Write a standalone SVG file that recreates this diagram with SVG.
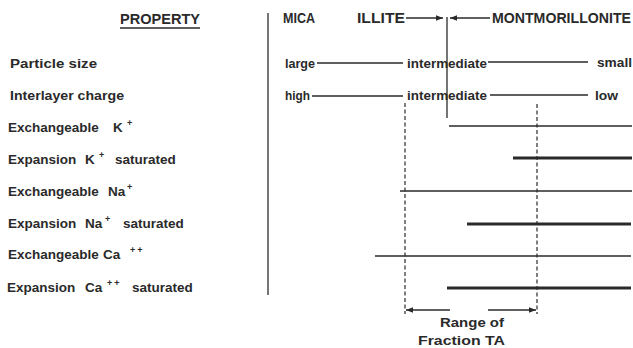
<svg xmlns="http://www.w3.org/2000/svg" width="633" height="348" viewBox="0 0 633 348">
<style>
text{font-family:"Liberation Sans",Arial,sans-serif;font-weight:bold;font-size:13.5px;fill:#2a2a2a}
.hd{font-size:14px}
.sup{font-size:9px}
.ln{stroke:#2a2a2a;fill:none;stroke-width:1.3}
.thin{stroke:#2a2a2a;stroke-width:1.6}
.thick{stroke:#2a2a2a;stroke-width:2.8}
.dash{stroke:#2a2a2a;stroke-width:1.2;stroke-dasharray:4 2.5;fill:none}
</style>
<defs>
<marker id="ah" viewBox="0 0 10 10" refX="10" refY="5" markerWidth="7" markerHeight="7" markerUnits="userSpaceOnUse" orient="auto-start-reverse">
<path d="M0,1 L10,5 L0,9 Z" fill="#2a2a2a"/>
</marker>
</defs>
<rect width="633" height="348" fill="#fff"/>

<g id="property-column">
<text x="120" y="24" class="hd" textLength="80" lengthAdjust="spacingAndGlyphs">PROPERTY</text>
<line x1="120" y1="28" x2="200" y2="28" class="ln" stroke-width="1.4"/>
<text x="10" y="68" textLength="87" lengthAdjust="spacingAndGlyphs">Particle  size</text>
<text x="10" y="100" textLength="114" lengthAdjust="spacingAndGlyphs">Interlayer  charge</text>
<text x="8" y="132">Exchangeable<tspan x="113">K</tspan><tspan x="127" dy="-6" class="sup">+</tspan></text>
<text x="8" y="164">Expansion<tspan x="85">K</tspan><tspan x="99" dy="-6" class="sup">+</tspan><tspan x="115" dy="6">saturated</tspan></text>
<text x="8" y="196">Exchangeable<tspan x="108">Na</tspan><tspan x="127" dy="-6" class="sup">+</tspan></text>
<text x="8" y="228">Expansion<tspan x="85">Na</tspan><tspan x="105" dy="-6" class="sup">+</tspan><tspan x="123" dy="6">saturated</tspan></text>
<text x="8" y="259">Exchangeable<tspan x="103">Ca</tspan><tspan x="130" dy="-6" class="sup" letter-spacing="2">++</tspan></text>
<text x="7" y="292">Expansion<tspan x="85">Ca</tspan><tspan x="107" dy="-6" class="sup" letter-spacing="2">++</tspan><tspan x="132" dy="6">saturated</tspan></text>
</g>

<g id="divider">
<line x1="268" y1="13" x2="268" y2="295" class="ln" stroke-width="1.8"/>
</g>

<g id="header">
<text x="283" y="23" class="hd" textLength="32" lengthAdjust="spacingAndGlyphs">MICA</text>
<text x="357" y="23" class="hd" textLength="48" lengthAdjust="spacingAndGlyphs">ILLITE</text>
<text x="492" y="23" class="hd" textLength="139" lengthAdjust="spacingAndGlyphs">MONTMORILLONITE</text>
</g>

<g id="particle-size-row">
<text x="285" y="68" textLength="30" lengthAdjust="spacingAndGlyphs">large</text>
<text x="407" y="68" textLength="80" lengthAdjust="spacingAndGlyphs">intermediate</text>
<text x="597" y="67" textLength="35" lengthAdjust="spacingAndGlyphs">small</text>
</g>

<g id="interlayer-charge-row">
<text x="285" y="100" textLength="25" lengthAdjust="spacingAndGlyphs">high</text>
<text x="407" y="100" textLength="80" lengthAdjust="spacingAndGlyphs">intermediate</text>
<text x="595" y="100" textLength="23" lengthAdjust="spacingAndGlyphs">low</text>
</g>

<g id="range-label">
<text x="440" y="327" textLength="64" lengthAdjust="spacingAndGlyphs">Range  of</text>
<text x="418" y="345" textLength="87" lengthAdjust="spacingAndGlyphs">Fraction  TA</text>
</g>

<g id="connectors">
<line x1="406" y1="18" x2="443" y2="18" class="ln" marker-end="url(#ah)"/>
<line x1="490" y1="18" x2="450" y2="18" class="ln" marker-end="url(#ah)"/>
<line x1="447" y1="17" x2="447" y2="118" class="ln" stroke-width="2.6"/>
<line x1="317" y1="63" x2="403" y2="63" class="ln"/>
<line x1="488" y1="62" x2="588" y2="62" class="ln"/>
<line x1="312" y1="96" x2="403" y2="96" class="ln"/>
<line x1="490" y1="95" x2="588" y2="95" class="ln"/>
<line x1="449" y1="126" x2="632" y2="126" class="thin"/>
<line x1="513" y1="158" x2="632" y2="158" class="thick"/>
<line x1="400" y1="191" x2="632" y2="191" class="thin"/>
<line x1="467" y1="224" x2="631" y2="224" class="thick"/>
<line x1="375" y1="256" x2="631" y2="256" class="thin"/>
<line x1="447" y1="288" x2="631" y2="288" class="thick"/>
<line x1="405" y1="103" x2="405" y2="314" class="dash"/>
<line x1="537" y1="104" x2="537" y2="314" class="dash"/>
<line x1="450" y1="310" x2="406" y2="310" class="ln" marker-end="url(#ah)"/>
<line x1="488" y1="310" x2="536" y2="310" class="ln" marker-end="url(#ah)"/>
</g>
</svg>
